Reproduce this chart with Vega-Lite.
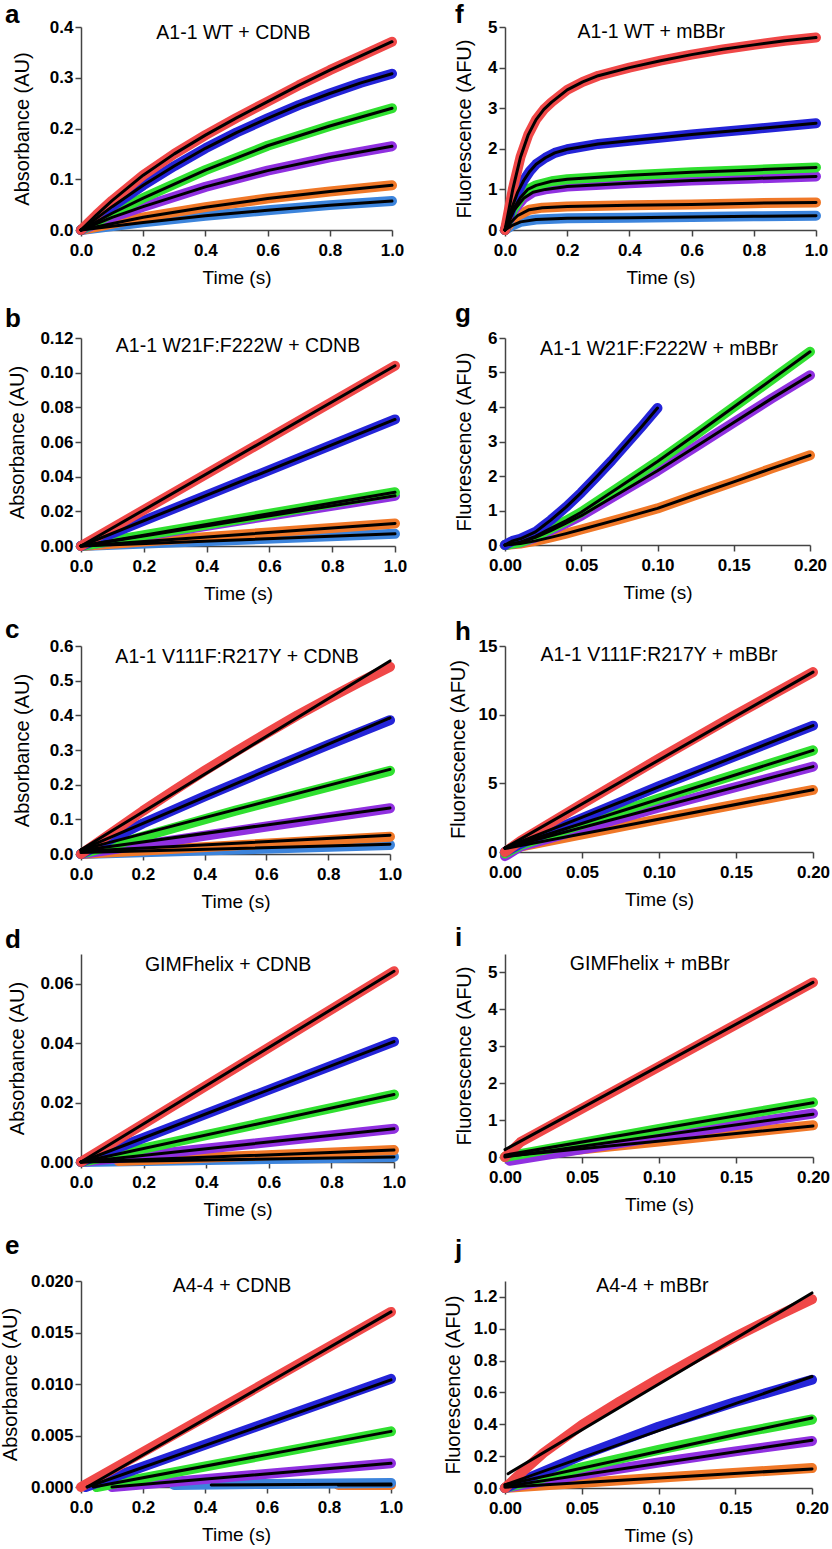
{
"$schema": "https://vega.github.io/schema/vega-lite/v6.json",
"background": "white",
"padding": {"left": 0, "top": 2, "right": 0, "bottom": 0},
"columns": 2,
"spacing": {"row": 14, "column": 36},
"resolve": {"scale": {"x": "independent", "y": "independent"}},
"config": {
 "view": {"stroke": null},
 "font": "Liberation Sans",
 "axis": {"grid": false, "tickCount": 20, "domainColor": "#444", "domainWidth": 1.5, "tickColor": "#444", "tickWidth": 1.5, "labelFont": "Liberation Sans", "labelFontWeight": "bold", "labelFontSize": 17, "labelColor": "#000", "labelFlush": false, "labelOverlap": false, "titleFont": "Liberation Sans", "titleFontWeight": "normal", "titleFontSize": 19, "titleColor": "#000"},
 "axisY": {"titleFontSize": 20, "titlePadding": 10, "tickSize": 6, "labelPadding": 2},
 "axisX": {"titlePadding": 10, "tickSize": 6, "labelPadding": 6},
 "title": {"anchor": "start", "frame": "group", "font": "Liberation Sans", "fontSize": 26, "fontWeight": "bold", "color": "#000", "baseline": "alphabetic"},
 "text": {"font": "Liberation Sans", "fontSize": 19.5, "baseline": "top", "color": "#000"},
 "line": {"strokeCap": "round", "strokeJoin": "round"}
},
"data": {"values": [
{"p":"a","s":"l","k":"b","t":0,"v":0},{"p":"a","s":"l","k":"b","t":0.2,"v":0.015},{"p":"a","s":"l","k":"b","t":0.4,"v":0.028},{"p":"a","s":"l","k":"b","t":0.6,"v":0.039},{"p":"a","s":"l","k":"b","t":0.8,"v":0.049},{"p":"a","s":"l","k":"b","t":1,"v":0.057},
{"p":"a","s":"o","k":"b","t":0,"v":0},{"p":"a","s":"o","k":"b","t":0.2,"v":0.025},{"p":"a","s":"o","k":"b","t":0.4,"v":0.045},{"p":"a","s":"o","k":"b","t":0.6,"v":0.062},{"p":"a","s":"o","k":"b","t":0.8,"v":0.076},{"p":"a","s":"o","k":"b","t":1,"v":0.088},
{"p":"a","s":"p","k":"b","t":0,"v":0},{"p":"a","s":"p","k":"b","t":0.1,"v":0.025},{"p":"a","s":"p","k":"b","t":0.2,"v":0.046},{"p":"a","s":"p","k":"b","t":0.4,"v":0.085},{"p":"a","s":"p","k":"b","t":0.6,"v":0.117},{"p":"a","s":"p","k":"b","t":0.8,"v":0.143},{"p":"a","s":"p","k":"b","t":1,"v":0.165},
{"p":"a","s":"g","k":"b","t":0,"v":0},{"p":"a","s":"g","k":"b","t":0.1,"v":0.033},{"p":"a","s":"g","k":"b","t":0.2,"v":0.063},{"p":"a","s":"g","k":"b","t":0.4,"v":0.118},{"p":"a","s":"g","k":"b","t":0.6,"v":0.166},{"p":"a","s":"g","k":"b","t":0.8,"v":0.205},{"p":"a","s":"g","k":"b","t":1,"v":0.24},
{"p":"a","s":"b","k":"b","t":0,"v":0},{"p":"a","s":"b","k":"b","t":0.1,"v":0.046},{"p":"a","s":"b","k":"b","t":0.2,"v":0.088},{"p":"a","s":"b","k":"b","t":0.3,"v":0.126},{"p":"a","s":"b","k":"b","t":0.4,"v":0.161},{"p":"a","s":"b","k":"b","t":0.5,"v":0.192},{"p":"a","s":"b","k":"b","t":0.6,"v":0.22},{"p":"a","s":"b","k":"b","t":0.7,"v":0.246},{"p":"a","s":"b","k":"b","t":0.8,"v":0.269},{"p":"a","s":"b","k":"b","t":0.9,"v":0.29},{"p":"a","s":"b","k":"b","t":1,"v":0.308},
{"p":"a","s":"r","k":"b","t":0,"v":0},{"p":"a","s":"r","k":"b","t":0.05,"v":0.03},{"p":"a","s":"r","k":"b","t":0.1,"v":0.058},{"p":"a","s":"r","k":"b","t":0.2,"v":0.108},{"p":"a","s":"r","k":"b","t":0.3,"v":0.15},{"p":"a","s":"r","k":"b","t":0.4,"v":0.187},{"p":"a","s":"r","k":"b","t":0.5,"v":0.221},{"p":"a","s":"r","k":"b","t":0.6,"v":0.253},{"p":"a","s":"r","k":"b","t":0.7,"v":0.285},{"p":"a","s":"r","k":"b","t":0.8,"v":0.315},{"p":"a","s":"r","k":"b","t":0.9,"v":0.343},{"p":"a","s":"r","k":"b","t":1,"v":0.371},

{"p":"f","s":"l","k":"b","t":0,"v":0},{"p":"f","s":"l","k":"b","t":0.02,"v":0.1},{"p":"f","s":"l","k":"b","t":0.05,"v":0.2},{"p":"f","s":"l","k":"b","t":0.1,"v":0.26},{"p":"f","s":"l","k":"b","t":0.2,"v":0.29},{"p":"f","s":"l","k":"b","t":0.4,"v":0.3},{"p":"f","s":"l","k":"b","t":0.6,"v":0.32},{"p":"f","s":"l","k":"b","t":0.8,"v":0.34},{"p":"f","s":"l","k":"b","t":1,"v":0.35},
{"p":"f","s":"o","k":"b","t":0,"v":0},{"p":"f","s":"o","k":"b","t":0.02,"v":0.2},{"p":"f","s":"o","k":"b","t":0.04,"v":0.35},{"p":"f","s":"o","k":"b","t":0.078,"v":0.5},{"p":"f","s":"o","k":"b","t":0.12,"v":0.55},{"p":"f","s":"o","k":"b","t":0.2,"v":0.58},{"p":"f","s":"o","k":"b","t":0.4,"v":0.61},{"p":"f","s":"o","k":"b","t":0.6,"v":0.63},{"p":"f","s":"o","k":"b","t":0.8,"v":0.66},{"p":"f","s":"o","k":"b","t":1,"v":0.68},
{"p":"f","s":"p","k":"b","t":0,"v":0},{"p":"f","s":"p","k":"b","t":0.03,"v":0.5},{"p":"f","s":"p","k":"b","t":0.06,"v":0.78},{"p":"f","s":"p","k":"b","t":0.09,"v":0.93},{"p":"f","s":"p","k":"b","t":0.13,"v":1.0},{"p":"f","s":"p","k":"b","t":0.2,"v":1.07},{"p":"f","s":"p","k":"b","t":0.4,"v":1.15},{"p":"f","s":"p","k":"b","t":0.6,"v":1.22},{"p":"f","s":"p","k":"b","t":0.8,"v":1.27},{"p":"f","s":"p","k":"b","t":1,"v":1.32},
{"p":"f","s":"g","k":"b","t":0,"v":0},{"p":"f","s":"g","k":"b","t":0.025,"v":0.5},{"p":"f","s":"g","k":"b","t":0.05,"v":0.8},{"p":"f","s":"g","k":"b","t":0.073,"v":1.0},{"p":"f","s":"g","k":"b","t":0.1,"v":1.1},{"p":"f","s":"g","k":"b","t":0.15,"v":1.2},{"p":"f","s":"g","k":"b","t":0.2,"v":1.25},{"p":"f","s":"g","k":"b","t":0.4,"v":1.35},{"p":"f","s":"g","k":"b","t":0.6,"v":1.42},{"p":"f","s":"g","k":"b","t":0.8,"v":1.48},{"p":"f","s":"g","k":"b","t":1,"v":1.54},
{"p":"f","s":"b","k":"b","t":0,"v":0},{"p":"f","s":"b","k":"b","t":0.02,"v":0.5},{"p":"f","s":"b","k":"b","t":0.04,"v":0.92},{"p":"f","s":"b","k":"b","t":0.06,"v":1.22},{"p":"f","s":"b","k":"b","t":0.08,"v":1.45},{"p":"f","s":"b","k":"b","t":0.1,"v":1.62},{"p":"f","s":"b","k":"b","t":0.13,"v":1.78},{"p":"f","s":"b","k":"b","t":0.16,"v":1.9},{"p":"f","s":"b","k":"b","t":0.2,"v":1.99},{"p":"f","s":"b","k":"b","t":0.3,"v":2.12},{"p":"f","s":"b","k":"b","t":0.4,"v":2.2},{"p":"f","s":"b","k":"b","t":0.6,"v":2.35},{"p":"f","s":"b","k":"b","t":0.8,"v":2.49},{"p":"f","s":"b","k":"b","t":1,"v":2.63},
{"p":"f","s":"r","k":"b","t":0,"v":0},{"p":"f","s":"r","k":"b","t":0.025,"v":1.0},{"p":"f","s":"r","k":"b","t":0.05,"v":1.8},{"p":"f","s":"r","k":"b","t":0.075,"v":2.35},{"p":"f","s":"r","k":"b","t":0.1,"v":2.72},{"p":"f","s":"r","k":"b","t":0.125,"v":2.97},{"p":"f","s":"r","k":"b","t":0.15,"v":3.15},{"p":"f","s":"r","k":"b","t":0.2,"v":3.45},{"p":"f","s":"r","k":"b","t":0.25,"v":3.65},{"p":"f","s":"r","k":"b","t":0.3,"v":3.8},{"p":"f","s":"r","k":"b","t":0.4,"v":4.0},{"p":"f","s":"r","k":"b","t":0.5,"v":4.17},{"p":"f","s":"r","k":"b","t":0.6,"v":4.32},{"p":"f","s":"r","k":"b","t":0.7,"v":4.45},{"p":"f","s":"r","k":"b","t":0.8,"v":4.56},{"p":"f","s":"r","k":"b","t":0.9,"v":4.66},{"p":"f","s":"r","k":"b","t":1,"v":4.74},

{"p":"b","s":"l","k":"b","t":0,"v":0},{"p":"b","s":"l","k":"b","t":1,"v":0.007},
{"p":"b","s":"o","k":"b","t":0,"v":0},{"p":"b","s":"o","k":"b","t":1,"v":0.013},
{"p":"b","s":"p","k":"b","t":0,"v":0},{"p":"b","s":"p","k":"b","t":1,"v":0.029},
{"p":"b","s":"g","k":"b","t":0,"v":0},{"p":"b","s":"g","k":"b","t":1,"v":0.031},
{"p":"b","s":"b","k":"b","t":0,"v":0},{"p":"b","s":"b","k":"b","t":1,"v":0.073},
{"p":"b","s":"r","k":"b","t":0,"v":0},{"p":"b","s":"r","k":"b","t":1,"v":0.104},

{"p":"g","s":"o","k":"b","t":0,"v":0},{"p":"g","s":"o","k":"b","t":0.01,"v":0.04},{"p":"g","s":"o","k":"b","t":0.02,"v":0.12},{"p":"g","s":"o","k":"b","t":0.03,"v":0.22},{"p":"g","s":"o","k":"b","t":0.04,"v":0.33},{"p":"g","s":"o","k":"b","t":0.05,"v":0.45},{"p":"g","s":"o","k":"b","t":0.075,"v":0.75},{"p":"g","s":"o","k":"b","t":0.1,"v":1.06},{"p":"g","s":"o","k":"b","t":0.125,"v":1.45},{"p":"g","s":"o","k":"b","t":0.15,"v":1.83},{"p":"g","s":"o","k":"b","t":0.175,"v":2.22},{"p":"g","s":"o","k":"b","t":0.2,"v":2.6},
{"p":"g","s":"p","k":"b","t":0,"v":0},{"p":"g","s":"p","k":"b","t":0.01,"v":0.07},{"p":"g","s":"p","k":"b","t":0.02,"v":0.22},{"p":"g","s":"p","k":"b","t":0.03,"v":0.42},{"p":"g","s":"p","k":"b","t":0.04,"v":0.63},{"p":"g","s":"p","k":"b","t":0.05,"v":0.85},{"p":"g","s":"p","k":"b","t":0.075,"v":1.5},{"p":"g","s":"p","k":"b","t":0.1,"v":2.15},{"p":"g","s":"p","k":"b","t":0.125,"v":2.85},{"p":"g","s":"p","k":"b","t":0.15,"v":3.55},{"p":"g","s":"p","k":"b","t":0.175,"v":4.25},{"p":"g","s":"p","k":"b","t":0.2,"v":4.92},
{"p":"g","s":"g","k":"b","t":0,"v":0},{"p":"g","s":"g","k":"b","t":0.01,"v":0.08},{"p":"g","s":"g","k":"b","t":0.02,"v":0.25},{"p":"g","s":"g","k":"b","t":0.03,"v":0.48},{"p":"g","s":"g","k":"b","t":0.04,"v":0.7},{"p":"g","s":"g","k":"b","t":0.05,"v":0.95},{"p":"g","s":"g","k":"b","t":0.075,"v":1.68},{"p":"g","s":"g","k":"b","t":0.1,"v":2.42},{"p":"g","s":"g","k":"b","t":0.125,"v":3.2},{"p":"g","s":"g","k":"b","t":0.15,"v":4.0},{"p":"g","s":"g","k":"b","t":0.175,"v":4.8},{"p":"g","s":"g","k":"b","t":0.2,"v":5.6},
{"p":"g","s":"b","k":"b","t":0,"v":0},{"p":"g","s":"b","k":"b","t":0.005,"v":0.12},{"p":"g","s":"b","k":"b","t":0.01,"v":0.18},{"p":"g","s":"b","k":"b","t":0.02,"v":0.38},{"p":"g","s":"b","k":"b","t":0.025,"v":0.55},{"p":"g","s":"b","k":"b","t":0.03,"v":0.72},{"p":"g","s":"b","k":"b","t":0.04,"v":1.1},{"p":"g","s":"b","k":"b","t":0.05,"v":1.52},{"p":"g","s":"b","k":"b","t":0.06,"v":1.98},{"p":"g","s":"b","k":"b","t":0.07,"v":2.45},{"p":"g","s":"b","k":"b","t":0.08,"v":2.95},{"p":"g","s":"b","k":"b","t":0.09,"v":3.45},{"p":"g","s":"b","k":"b","t":0.1,"v":3.97},

{"p":"c","s":"l","k":"d","t":0,"v":0},{"p":"c","s":"l","k":"d","t":1,"v":0.026},
{"p":"c","s":"o","k":"d","t":0,"v":0},{"p":"c","s":"o","k":"d","t":1,"v":0.05},
{"p":"c","s":"p","k":"d","t":0,"v":0},{"p":"c","s":"p","k":"d","t":1,"v":0.132},
{"p":"c","s":"g","k":"d","t":0,"v":0},{"p":"c","s":"g","k":"d","t":0.5,"v":0.125},{"p":"c","s":"g","k":"d","t":1,"v":0.24},
{"p":"c","s":"b","k":"d","t":0,"v":0},{"p":"c","s":"b","k":"d","t":0.2,"v":0.088},{"p":"c","s":"b","k":"d","t":0.4,"v":0.166},{"p":"c","s":"b","k":"d","t":0.6,"v":0.241},{"p":"c","s":"b","k":"d","t":0.8,"v":0.315},{"p":"c","s":"b","k":"d","t":1,"v":0.386},
{"p":"c","s":"r","k":"d","t":0,"v":0},{"p":"c","s":"r","k":"d","t":0.1,"v":0.062},{"p":"c","s":"r","k":"d","t":0.2,"v":0.124},{"p":"c","s":"r","k":"d","t":0.3,"v":0.183},{"p":"c","s":"r","k":"d","t":0.4,"v":0.24},{"p":"c","s":"r","k":"d","t":0.5,"v":0.295},{"p":"c","s":"r","k":"d","t":0.6,"v":0.348},{"p":"c","s":"r","k":"d","t":0.7,"v":0.4},{"p":"c","s":"r","k":"d","t":0.8,"v":0.448},{"p":"c","s":"r","k":"d","t":0.9,"v":0.495},{"p":"c","s":"r","k":"d","t":1,"v":0.54},
{"p":"c","s":"l","k":"f","t":0,"v":0.004},{"p":"c","s":"l","k":"f","t":1,"v":0.028},
{"p":"c","s":"o","k":"f","t":0,"v":0.008},{"p":"c","s":"o","k":"f","t":1,"v":0.054},
{"p":"c","s":"p","k":"f","t":0,"v":0.01},{"p":"c","s":"p","k":"f","t":1,"v":0.133},
{"p":"c","s":"g","k":"f","t":0,"v":0.012},{"p":"c","s":"g","k":"f","t":1,"v":0.244},
{"p":"c","s":"b","k":"f","t":0,"v":0.012},{"p":"c","s":"b","k":"f","t":1,"v":0.393},
{"p":"c","s":"r","k":"f","t":0,"v":0.012},{"p":"c","s":"r","k":"f","t":1,"v":0.557},

{"p":"h","s":"o","k":"d","t":0,"v":0},{"p":"h","s":"o","k":"d","t":0.01,"v":0.4},{"p":"h","s":"o","k":"d","t":0.1,"v":2.4},{"p":"h","s":"o","k":"d","t":0.2,"v":4.52},
{"p":"h","s":"p","k":"d","t":0,"v":-0.3},{"p":"h","s":"p","k":"d","t":0.01,"v":0.4},{"p":"h","s":"p","k":"d","t":0.1,"v":3.25},{"p":"h","s":"p","k":"d","t":0.2,"v":6.22},
{"p":"h","s":"g","k":"d","t":0,"v":-0.1},{"p":"h","s":"g","k":"d","t":0.01,"v":0.5},{"p":"h","s":"g","k":"d","t":0.1,"v":3.9},{"p":"h","s":"g","k":"d","t":0.2,"v":7.4},
{"p":"h","s":"b","k":"d","t":0,"v":0},{"p":"h","s":"b","k":"d","t":0.01,"v":0.6},{"p":"h","s":"b","k":"d","t":0.1,"v":4.8},{"p":"h","s":"b","k":"d","t":0.2,"v":9.2},
{"p":"h","s":"r","k":"d","t":0,"v":0},{"p":"h","s":"r","k":"d","t":0.01,"v":0.8},{"p":"h","s":"r","k":"d","t":0.05,"v":3.5},{"p":"h","s":"r","k":"d","t":0.1,"v":6.8},{"p":"h","s":"r","k":"d","t":0.15,"v":10.0},{"p":"h","s":"r","k":"d","t":0.2,"v":13.1},
{"p":"h","s":"o","k":"f","t":0,"v":0.25},{"p":"h","s":"o","k":"f","t":0.2,"v":4.53},
{"p":"h","s":"p","k":"f","t":0,"v":0.3},{"p":"h","s":"p","k":"f","t":0.2,"v":6.22},
{"p":"h","s":"g","k":"f","t":0,"v":0.3},{"p":"h","s":"g","k":"f","t":0.2,"v":7.4},
{"p":"h","s":"b","k":"f","t":0,"v":0.3},{"p":"h","s":"b","k":"f","t":0.2,"v":9.2},
{"p":"h","s":"r","k":"f","t":0,"v":0.3},{"p":"h","s":"r","k":"f","t":0.2,"v":13.1},

{"p":"d","s":"l","k":"b","t":0,"v":0},{"p":"d","s":"l","k":"b","t":1,"v":0.0017},
{"p":"d","s":"o","k":"d","t":0.12,"v":0.0003},{"p":"d","s":"o","k":"d","t":1,"v":0.004},
{"p":"d","s":"o","k":"f","t":0,"v":0},{"p":"d","s":"o","k":"f","t":1,"v":0.004},
{"p":"d","s":"p","k":"b","t":0,"v":0},{"p":"d","s":"p","k":"b","t":1,"v":0.0112},
{"p":"d","s":"g","k":"b","t":0,"v":0},{"p":"d","s":"g","k":"b","t":1,"v":0.0227},
{"p":"d","s":"b","k":"b","t":0,"v":0},{"p":"d","s":"b","k":"b","t":1,"v":0.0405},
{"p":"d","s":"r","k":"b","t":0,"v":0},{"p":"d","s":"r","k":"b","t":1,"v":0.0642},

{"p":"i","s":"o","k":"d","t":0,"v":0},{"p":"i","s":"o","k":"d","t":0.1,"v":0.42},{"p":"i","s":"o","k":"d","t":0.2,"v":0.86},
{"p":"i","s":"p","k":"d","t":0.003,"v":-0.1},{"p":"i","s":"p","k":"d","t":0.1,"v":0.55},{"p":"i","s":"p","k":"d","t":0.2,"v":1.18},
{"p":"i","s":"g","k":"d","t":0,"v":0},{"p":"i","s":"g","k":"d","t":0.1,"v":0.76},{"p":"i","s":"g","k":"d","t":0.2,"v":1.48},
{"p":"i","s":"r","k":"d","t":0,"v":0},{"p":"i","s":"r","k":"d","t":0.01,"v":0.4},{"p":"i","s":"r","k":"d","t":0.1,"v":2.45},{"p":"i","s":"r","k":"d","t":0.2,"v":4.73},
{"p":"i","s":"o","k":"f","t":0,"v":0.02},{"p":"i","s":"o","k":"f","t":0.2,"v":0.84},
{"p":"i","s":"p","k":"f","t":0,"v":0},{"p":"i","s":"p","k":"f","t":0.2,"v":1.16},
{"p":"i","s":"g","k":"f","t":0,"v":0.05},{"p":"i","s":"g","k":"f","t":0.2,"v":1.47},
{"p":"i","s":"r","k":"f","t":0,"v":0.2},{"p":"i","s":"r","k":"f","t":0.2,"v":4.73},

{"p":"e","s":"o","k":"d","t":0.83,"v":0.0002},{"p":"e","s":"o","k":"d","t":1,"v":0.0002},
{"p":"e","s":"l","k":"d","t":0.3,"v":0.0002},{"p":"e","s":"l","k":"d","t":0.6,"v":0.0003},{"p":"e","s":"l","k":"d","t":1,"v":0.0004},
{"p":"e","s":"p","k":"d","t":0.1,"v":0},{"p":"e","s":"p","k":"d","t":1,"v":0.0023},
{"p":"e","s":"g","k":"d","t":0.05,"v":0},{"p":"e","s":"g","k":"d","t":1,"v":0.0054},
{"p":"e","s":"b","k":"d","t":0.015,"v":0},{"p":"e","s":"b","k":"d","t":1,"v":0.0105},
{"p":"e","s":"r","k":"d","t":0,"v":0},{"p":"e","s":"r","k":"d","t":1,"v":0.017},
{"p":"e","s":"o","k":"f","t":0.83,"v":0.0002},{"p":"e","s":"o","k":"f","t":1,"v":0.0002},
{"p":"e","s":"l","k":"f","t":0.42,"v":0.0002},{"p":"e","s":"l","k":"f","t":1,"v":0.0003},
{"p":"e","s":"p","k":"f","t":0.1,"v":0},{"p":"e","s":"p","k":"f","t":1,"v":0.0023},
{"p":"e","s":"g","k":"f","t":0.04,"v":0},{"p":"e","s":"g","k":"f","t":1,"v":0.0054},
{"p":"e","s":"b","k":"f","t":0.02,"v":0},{"p":"e","s":"b","k":"f","t":1,"v":0.0104},
{"p":"e","s":"r","k":"f","t":0.02,"v":0},{"p":"e","s":"r","k":"f","t":1,"v":0.017},

{"p":"j","s":"o","k":"d","t":0,"v":0},{"p":"j","s":"o","k":"d","t":0.1,"v":0.065},{"p":"j","s":"o","k":"d","t":0.2,"v":0.125},
{"p":"j","s":"p","k":"d","t":0,"v":0},{"p":"j","s":"p","k":"d","t":0.05,"v":0.085},{"p":"j","s":"p","k":"d","t":0.1,"v":0.16},{"p":"j","s":"p","k":"d","t":0.15,"v":0.23},{"p":"j","s":"p","k":"d","t":0.2,"v":0.295},
{"p":"j","s":"g","k":"d","t":0,"v":0},{"p":"j","s":"g","k":"d","t":0.05,"v":0.13},{"p":"j","s":"g","k":"d","t":0.1,"v":0.24},{"p":"j","s":"g","k":"d","t":0.15,"v":0.34},{"p":"j","s":"g","k":"d","t":0.2,"v":0.43},
{"p":"j","s":"b","k":"d","t":0,"v":0},{"p":"j","s":"b","k":"d","t":0.05,"v":0.205},{"p":"j","s":"b","k":"d","t":0.1,"v":0.385},{"p":"j","s":"b","k":"d","t":0.15,"v":0.54},{"p":"j","s":"b","k":"d","t":0.2,"v":0.68},
{"p":"j","s":"r","k":"d","t":0,"v":0},{"p":"j","s":"r","k":"d","t":0.01,"v":0.09},{"p":"j","s":"r","k":"d","t":0.025,"v":0.22},{"p":"j","s":"r","k":"d","t":0.05,"v":0.395},{"p":"j","s":"r","k":"d","t":0.075,"v":0.545},{"p":"j","s":"r","k":"d","t":0.1,"v":0.685},{"p":"j","s":"r","k":"d","t":0.125,"v":0.82},{"p":"j","s":"r","k":"d","t":0.15,"v":0.95},{"p":"j","s":"r","k":"d","t":0.175,"v":1.07},{"p":"j","s":"r","k":"d","t":0.2,"v":1.185},
{"p":"j","s":"o","k":"f","t":0,"v":0.005},{"p":"j","s":"o","k":"f","t":0.2,"v":0.12},
{"p":"j","s":"p","k":"f","t":0,"v":0.01},{"p":"j","s":"p","k":"f","t":0.2,"v":0.3},
{"p":"j","s":"g","k":"f","t":0,"v":0.02},{"p":"j","s":"g","k":"f","t":0.2,"v":0.44},
{"p":"j","s":"b","k":"f","t":0,"v":0.02},{"p":"j","s":"b","k":"f","t":0.2,"v":0.7},
{"p":"j","s":"r","k":"f","t":0.002,"v":0.089},{"p":"j","s":"r","k":"f","t":0.2,"v":1.225}
]},
"concat": [
{"width": 311, "height": 203, "title": {"text": "a", "dx": -76, "offset": -10},
 "layer": [
  {"transform": [{"filter": "datum.p==='a' && datum.k!=='f'"}], "mark": {"type": "line", "strokeWidth": 10},
   "encoding": {"x": {"field": "t", "type": "quantitative", "scale": {"domain": [0, 1], "nice": false}, "axis": {"title": "Time (s)", "values": [0, 0.2, 0.4, 0.6, 0.8, 1], "format": ".1f", "tickCount": 20}},
    "y": {"field": "v", "type": "quantitative", "scale": {"domain": [0, 0.4], "nice": false}, "axis": {"title": "Absorbance (AU)", "values": [0, 0.1, 0.2, 0.3, 0.4], "format": ".1f", "tickCount": 20, "titlePadding": 17}},
    "color": {"field": "s", "type": "nominal", "scale": {"domain": ["l", "o", "p", "g", "b", "r"], "range": ["#3C84DC", "#F07828", "#9030E0", "#30E030", "#2424D8", "#F04848"]}, "legend": null}}},
  {"transform": [{"filter": "datum.p==='a' && datum.k!=='d'"}], "mark": {"type": "line", "strokeWidth": 3, "color": "#000"},
   "encoding": {"x": {"field": "t", "type": "quantitative"}, "y": {"field": "v", "type": "quantitative"}, "detail": {"field": "s"}}},
  {"data": {"values": [{"label": "A1-1 WT + CDNB"}]}, "mark": {"type": "text", "dy": -3},
   "encoding": {"x": {"datum": 0.49}, "y": {"datum": 0.4}, "text": {"field": "label"}}}
 ]},
{"width": 311, "height": 203, "title": {"text": "f", "dx": -50, "offset": -10},
 "layer": [
  {"transform": [{"filter": "datum.p==='f' && datum.k!=='f'"}], "mark": {"type": "line", "strokeWidth": 10},
   "encoding": {"x": {"field": "t", "type": "quantitative", "scale": {"domain": [0, 1], "nice": false}, "axis": {"title": "Time (s)", "values": [0, 0.2, 0.4, 0.6, 0.8, 1], "format": ".1f", "tickCount": 20}},
    "y": {"field": "v", "type": "quantitative", "scale": {"domain": [0, 5], "nice": false}, "axis": {"title": "Fluorescence (AFU)", "values": [0, 1, 2, 3, 4, 5], "format": "d", "tickCount": 20, "titlePadding": 13}},
    "color": {"field": "s", "type": "nominal", "scale": {"domain": ["l", "o", "p", "g", "b", "r"], "range": ["#3C84DC", "#F07828", "#9030E0", "#30E030", "#2424D8", "#F04848"]}, "legend": null}}},
  {"transform": [{"filter": "datum.p==='f' && datum.k!=='d'"}], "mark": {"type": "line", "strokeWidth": 3, "color": "#000"},
   "encoding": {"x": {"field": "t", "type": "quantitative"}, "y": {"field": "v", "type": "quantitative"}, "detail": {"field": "s"}}},
  {"data": {"values": [{"label": "A1-1 WT + mBBr"}]}, "mark": {"type": "text", "dy": -4},
   "encoding": {"x": {"datum": 0.47}, "y": {"datum": 5}, "text": {"field": "label"}}}
 ]},
{"width": 314, "height": 208, "title": {"text": "b", "dx": -76, "offset": -3},
 "layer": [
  {"transform": [{"filter": "datum.p==='b' && datum.k!=='f'"}], "mark": {"type": "line", "strokeWidth": 10},
   "encoding": {"x": {"field": "t", "type": "quantitative", "scale": {"domain": [0, 1], "nice": false}, "axis": {"title": "Time (s)", "values": [0, 0.2, 0.4, 0.6, 0.8, 1], "format": ".1f", "tickCount": 20}},
    "y": {"field": "v", "type": "quantitative", "scale": {"domain": [0, 0.12], "nice": false}, "axis": {"title": "Absorbance (AU)", "values": [0, 0.02, 0.04, 0.06, 0.08, 0.1, 0.12], "format": ".2f", "tickCount": 20, "titlePadding": 12}},
    "color": {"field": "s", "type": "nominal", "scale": {"domain": ["l", "o", "p", "g", "b", "r"], "range": ["#3C84DC", "#F07828", "#9030E0", "#30E030", "#2424D8", "#F04848"]}, "legend": null}}},
  {"transform": [{"filter": "datum.p==='b' && datum.k!=='d'"}], "mark": {"type": "line", "strokeWidth": 3, "color": "#000"},
   "encoding": {"x": {"field": "t", "type": "quantitative"}, "y": {"field": "v", "type": "quantitative"}, "detail": {"field": "s"}}},
  {"data": {"values": [{"label": "A1-1 W21F:F222W + CDNB"}]}, "mark": {"type": "text", "dy": -1},
   "encoding": {"x": {"datum": 0.5}, "y": {"datum": 0.12}, "text": {"field": "label"}}}
 ]},
{"width": 305, "height": 207, "title": {"text": "g", "dx": -50, "offset": 2},
 "layer": [
  {"transform": [{"filter": "datum.p==='g' && datum.k!=='f'"}], "mark": {"type": "line", "strokeWidth": 10},
   "encoding": {"x": {"field": "t", "type": "quantitative", "scale": {"domain": [0, 0.2], "nice": false}, "axis": {"title": "Time (s)", "values": [0, 0.05, 0.1, 0.15, 0.2], "format": ".2f", "tickCount": 20}},
    "y": {"field": "v", "type": "quantitative", "scale": {"domain": [0, 6], "nice": false}, "axis": {"title": "Fluorescence (AFU)", "values": [0, 1, 2, 3, 4, 5, 6], "format": "d", "tickCount": 20, "titlePadding": 13}},
    "color": {"field": "s", "type": "nominal", "scale": {"domain": ["l", "o", "p", "g", "b", "r"], "range": ["#3C84DC", "#F07828", "#9030E0", "#30E030", "#2424D8", "#F04848"]}, "legend": null}}},
  {"transform": [{"filter": "datum.p==='g' && datum.k!=='d'"}], "mark": {"type": "line", "strokeWidth": 3, "color": "#000"},
   "encoding": {"x": {"field": "t", "type": "quantitative"}, "y": {"field": "v", "type": "quantitative"}, "detail": {"field": "s"}}},
  {"data": {"values": [{"label": "A1-1 W21F:F222W + mBBr"}]}, "mark": {"type": "text", "dy": 2},
   "encoding": {"x": {"datum": 0.101}, "y": {"datum": 6}, "text": {"field": "label"}}}
 ]},
{"width": 309, "height": 208, "title": {"text": "c", "dx": -76, "offset": -6},
 "layer": [
  {"transform": [{"filter": "datum.p==='c' && datum.k!=='f'"}], "mark": {"type": "line", "strokeWidth": 10},
   "encoding": {"x": {"field": "t", "type": "quantitative", "scale": {"domain": [0, 1], "nice": false}, "axis": {"title": "Time (s)", "values": [0, 0.2, 0.4, 0.6, 0.8, 1], "format": ".1f", "tickCount": 20}},
    "y": {"field": "v", "type": "quantitative", "scale": {"domain": [0, 0.6], "nice": false}, "axis": {"title": "Absorbance (AU)", "values": [0, 0.1, 0.2, 0.3, 0.4, 0.5, 0.6], "format": ".1f", "tickCount": 20, "titlePadding": 17}},
    "color": {"field": "s", "type": "nominal", "scale": {"domain": ["l", "o", "p", "g", "b", "r"], "range": ["#3C84DC", "#F07828", "#9030E0", "#30E030", "#2424D8", "#F04848"]}, "legend": null}}},
  {"transform": [{"filter": "datum.p==='c' && datum.k!=='d'"}], "mark": {"type": "line", "strokeWidth": 3, "color": "#000"},
   "encoding": {"x": {"field": "t", "type": "quantitative"}, "y": {"field": "v", "type": "quantitative"}, "detail": {"field": "s"}}},
  {"data": {"values": [{"label": "A1-1 V111F:R217Y + CDNB"}]}, "mark": {"type": "text", "dy": 2},
   "encoding": {"x": {"datum": 0.505}, "y": {"datum": 0.6}, "text": {"field": "label"}}}
 ]},
{"width": 308, "height": 206, "title": {"text": "h", "dx": -50, "offset": -8},
 "layer": [
  {"transform": [{"filter": "datum.p==='h' && datum.k!=='f'"}], "mark": {"type": "line", "strokeWidth": 10},
   "encoding": {"x": {"field": "t", "type": "quantitative", "scale": {"domain": [0, 0.2], "nice": false}, "axis": {"title": "Time (s)", "values": [0, 0.05, 0.1, 0.15, 0.2], "format": ".2f", "tickCount": 20}},
    "y": {"field": "v", "type": "quantitative", "scale": {"domain": [0, 15], "nice": false}, "axis": {"title": "Fluorescence (AFU)", "values": [0, 5, 10, 15], "format": "d", "tickCount": 20}},
    "color": {"field": "s", "type": "nominal", "scale": {"domain": ["l", "o", "p", "g", "b", "r"], "range": ["#3C84DC", "#F07828", "#9030E0", "#30E030", "#2424D8", "#F04848"]}, "legend": null}}},
  {"transform": [{"filter": "datum.p==='h' && datum.k!=='d'"}], "mark": {"type": "line", "strokeWidth": 3, "color": "#000"},
   "encoding": {"x": {"field": "t", "type": "quantitative"}, "y": {"field": "v", "type": "quantitative"}, "detail": {"field": "s"}}},
  {"data": {"values": [{"label": "A1-1 V111F:R217Y + mBBr"}]}, "mark": {"type": "text", "dy": 0},
   "encoding": {"x": {"datum": 0.1}, "y": {"datum": 15}, "text": {"field": "label"}}}
 ]},
{"width": 313, "height": 208, "title": {"text": "d", "dx": -76, "offset": 1},
 "layer": [
  {"transform": [{"filter": "datum.p==='d' && datum.k!=='f'"}], "mark": {"type": "line", "strokeWidth": 10},
   "encoding": {"x": {"field": "t", "type": "quantitative", "scale": {"domain": [0, 1], "nice": false}, "axis": {"title": "Time (s)", "values": [0, 0.2, 0.4, 0.6, 0.8, 1], "format": ".1f", "tickCount": 20}},
    "y": {"field": "v", "type": "quantitative", "scale": {"domain": [0, 0.07], "nice": false}, "axis": {"title": "Absorbance (AU)", "values": [0, 0.02, 0.04, 0.06], "format": ".2f", "tickCount": 20, "titlePadding": 12}},
    "color": {"field": "s", "type": "nominal", "scale": {"domain": ["l", "o", "p", "g", "b", "r"], "range": ["#3C84DC", "#F07828", "#9030E0", "#30E030", "#2424D8", "#F04848"]}, "legend": null}}},
  {"transform": [{"filter": "datum.p==='d' && datum.k!=='d'"}], "mark": {"type": "line", "strokeWidth": 3, "color": "#000"},
   "encoding": {"x": {"field": "t", "type": "quantitative"}, "y": {"field": "v", "type": "quantitative"}, "detail": {"field": "s"}}},
  {"data": {"values": [{"label": "GIMFhelix + CDNB"}]}, "mark": {"type": "text", "dy": 2},
   "encoding": {"x": {"datum": 0.47}, "y": {"datum": 0.07}, "text": {"field": "label"}}}
 ]},
{"width": 308, "height": 203, "title": {"text": "i", "dx": -50, "offset": 3},
 "layer": [
  {"transform": [{"filter": "datum.p==='i' && datum.k!=='f'"}], "mark": {"type": "line", "strokeWidth": 10},
   "encoding": {"x": {"field": "t", "type": "quantitative", "scale": {"domain": [0, 0.2], "nice": false}, "axis": {"title": "Time (s)", "values": [0, 0.05, 0.1, 0.15, 0.2], "format": ".2f", "tickCount": 20}},
    "y": {"field": "v", "type": "quantitative", "scale": {"domain": [0, 5.5], "nice": false}, "axis": {"title": "Fluorescence (AFU)", "values": [0, 1, 2, 3, 4, 5], "format": "d", "tickCount": 20, "titlePadding": 13}},
    "color": {"field": "s", "type": "nominal", "scale": {"domain": ["l", "o", "p", "g", "b", "r"], "range": ["#3C84DC", "#F07828", "#9030E0", "#30E030", "#2424D8", "#F04848"]}, "legend": null}}},
  {"transform": [{"filter": "datum.p==='i' && datum.k!=='d'"}], "mark": {"type": "line", "strokeWidth": 3, "color": "#000"},
   "encoding": {"x": {"field": "t", "type": "quantitative"}, "y": {"field": "v", "type": "quantitative"}, "detail": {"field": "s"}}},
  {"data": {"values": [{"label": "GIMFhelix + mBBr"}]}, "mark": {"type": "text", "dy": 1},
   "encoding": {"x": {"datum": 0.094}, "y": {"datum": 5.5}, "text": {"field": "label"}}}
 ]},
{"width": 310, "height": 206, "title": {"text": "e", "dx": -76, "offset": 13},
 "layer": [
  {"transform": [{"filter": "datum.p==='e' && datum.k!=='f'"}], "mark": {"type": "line", "strokeWidth": 10},
   "encoding": {"x": {"field": "t", "type": "quantitative", "scale": {"domain": [0, 1], "nice": false}, "axis": {"title": "Time (s)", "values": [0, 0.2, 0.4, 0.6, 0.8, 1], "format": ".1f", "tickCount": 20}},
    "y": {"field": "v", "type": "quantitative", "scale": {"domain": [0, 0.02], "nice": false}, "axis": {"title": "Absorbance (AU)", "values": [0, 0.005, 0.01, 0.015, 0.02], "format": ".3f", "tickCount": 20}},
    "color": {"field": "s", "type": "nominal", "scale": {"domain": ["l", "o", "p", "g", "b", "r"], "range": ["#3C84DC", "#F07828", "#9030E0", "#30E030", "#2424D8", "#F04848"]}, "legend": null}}},
  {"transform": [{"filter": "datum.p==='e' && datum.k!=='d'"}], "mark": {"type": "line", "strokeWidth": 3, "color": "#000"},
   "encoding": {"x": {"field": "t", "type": "quantitative"}, "y": {"field": "v", "type": "quantitative"}, "detail": {"field": "s"}}},
  {"data": {"values": [{"label": "A4-4 + CDNB"}]}, "mark": {"type": "text", "dy": -4},
   "encoding": {"x": {"datum": 0.487}, "y": {"datum": 0.02}, "text": {"field": "label"}}}
 ]},
{"width": 307, "height": 207, "title": {"text": "j", "dx": -50, "offset": 13},
 "layer": [
  {"transform": [{"filter": "datum.p==='j' && datum.k!=='f'"}], "mark": {"type": "line", "strokeWidth": 10},
   "encoding": {"x": {"field": "t", "type": "quantitative", "scale": {"domain": [0, 0.2], "nice": false}, "axis": {"title": "Time (s)", "values": [0, 0.05, 0.1, 0.15, 0.2], "format": ".2f", "tickCount": 20}},
    "y": {"field": "v", "type": "quantitative", "scale": {"domain": [0, 1.3], "nice": false}, "axis": {"title": "Fluorescence (AFU)", "values": [0, 0.2, 0.4, 0.6, 0.8, 1, 1.2], "format": ".1f", "tickCount": 20}},
    "color": {"field": "s", "type": "nominal", "scale": {"domain": ["l", "o", "p", "g", "b", "r"], "range": ["#3C84DC", "#F07828", "#9030E0", "#30E030", "#2424D8", "#F04848"]}, "legend": null}}},
  {"transform": [{"filter": "datum.p==='j' && datum.k!=='d'"}], "mark": {"type": "line", "strokeWidth": 3, "color": "#000"},
   "encoding": {"x": {"field": "t", "type": "quantitative"}, "y": {"field": "v", "type": "quantitative"}, "detail": {"field": "s"}}},
  {"data": {"values": [{"label": "A4-4 + mBBr"}]}, "mark": {"type": "text", "dy": -4},
   "encoding": {"x": {"datum": 0.096}, "y": {"datum": 1.3}, "text": {"field": "label"}}}
 ]}
]
}
